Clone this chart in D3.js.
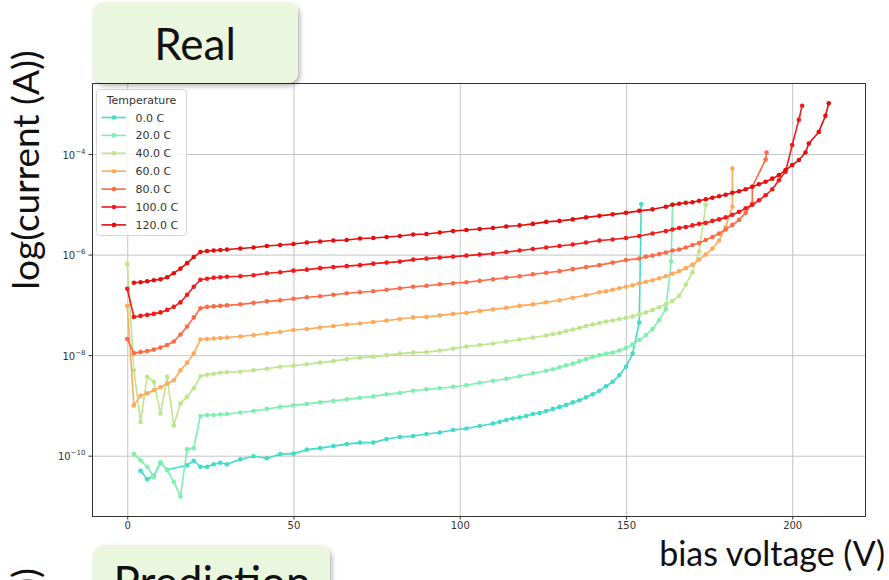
<!DOCTYPE html>
<html>
<head>
<meta charset="utf-8">
<script src="https://cdn.jsdelivr.net/npm/d3@7"></script>
<style>
  html, body { margin: 0; padding: 0; background: #fff; }
  svg { display: block; }
</style>
</head>
<body>
<div id="chart"></div>
<script>
// legend labels and line colours, one per temperature
const temps = ['0.0 C', '20.0 C', '40.0 C', '60.0 C', '80.0 C', '100.0 C', '120.0 C']
const colors = ['#3fdcc9', '#7df0ae', '#bde58c', '#ffaa5a', '#ff6a45', '#f21a1a', '#e60d0d']

// [bias voltage (V), log10 of current (A)]
const iv0 = [[4,-10.30],[6,-10.47],[8,-10.40],[10,-10.14],[12,-10.28],[18,-10.19],[20,-10.10],[22,-10.22],[24,-10.22],[26,-10.17],[28,-10.14],[30,-10.17],
    [34,-10.07],[38,-10.01],[42,-10.05],[46,-9.97],[50,-9.96],[54,-9.88],[58,-9.85],[62,-9.81],[66,-9.77],[70,-9.74],[74,-9.74],[78,-9.67],[82,-9.63],[86,-9.61],
    [90,-9.57],[94,-9.54],[98,-9.49],[102,-9.46],[106,-9.41],[110,-9.36],[112,-9.33],[114,-9.29],[116,-9.26],[118,-9.24],[120,-9.21],[122,-9.17],[124,-9.15],
    [126,-9.11],[128,-9.07],[130,-9.03],[132,-8.99],[134,-8.94],[136,-8.90],[138,-8.84],[140,-8.78],[142,-8.71],[144,-8.62],[146,-8.53],[148,-8.40],[150,-8.23],
    [152,-7.97],[154,-7.35],[154.6,-5.0]]

const iv20 = [[2,-9.97],[4,-10.09],[6,-10.22],[8,-10.43],[10,-10.13],[12,-10.29],[14,-10.52],[16,-10.81],[18,-9.87],[20,-9.85],[22,-9.21],[24,-9.19],[26,-9.19],[28,-9.18],[30,-9.17],
    [34,-9.14],[38,-9.11],[42,-9.07],[46,-9.03],[50,-9.00],[54,-8.97],[58,-8.94],[62,-8.91],[66,-8.88],[70,-8.85],[74,-8.82],[78,-8.78],[82,-8.75],[86,-8.71],
    [90,-8.68],[94,-8.66],[98,-8.63],[102,-8.60],[106,-8.55],[110,-8.51],[114,-8.47],[118,-8.42],[122,-8.36],[126,-8.31],[128,-8.28],[130,-8.24],[132,-8.20],
    [134,-8.17],[136,-8.12],[138,-8.08],[140,-8.03],[142,-8.00],[144,-7.97],[146,-7.95],[148,-7.91],[150,-7.86],[152,-7.79],[154,-7.70],[156,-7.60],[158,-7.48],
    [160,-7.30],[162,-7.08],[163.6,-6.14],[164,-5.0]]

const iv40 = [[0,-6.19],[2,-8.30],[4,-9.33],[6,-8.43],[8,-8.53],[10,-9.16],[12,-8.43],[14,-9.40],[16,-8.96],[18,-8.83],[20,-8.66],[22,-8.42],[24,-8.39],[26,-8.37],[28,-8.35],[30,-8.34],
    [34,-8.33],[38,-8.30],[42,-8.27],[46,-8.23],[50,-8.21],[54,-8.18],[58,-8.15],[62,-8.12],[66,-8.08],[70,-8.05],[74,-8.03],[78,-8.00],[82,-7.97],[86,-7.95],
    [90,-7.94],[94,-7.91],[98,-7.87],[102,-7.83],[106,-7.80],[110,-7.77],[114,-7.73],[118,-7.69],[122,-7.65],[126,-7.61],[128,-7.58],[130,-7.56],[132,-7.52],
    [134,-7.49],[136,-7.46],[138,-7.42],[140,-7.39],[142,-7.36],[144,-7.33],[146,-7.31],[148,-7.28],[150,-7.26],[152,-7.23],[154,-7.19],[156,-7.15],[158,-7.10],
    [160,-7.05],[162,-6.99],[164,-6.92],[166,-6.82],[168,-6.60],[170,-6.35],[172,-5.94],[174,-5.01]]

const iv60 = [[0,-7.02],[2,-9.00],[4,-8.81],[6,-8.76],[8,-8.70],[10,-8.64],[12,-8.57],[14,-8.50],[16,-8.30],[18,-8.15],[20,-7.97],[22,-7.69],[24,-7.68],[26,-7.67],[28,-7.66],[30,-7.65],
    [34,-7.63],[38,-7.60],[42,-7.57],[46,-7.54],[50,-7.50],[54,-7.48],[58,-7.45],[62,-7.42],[66,-7.39],[70,-7.37],[74,-7.34],[78,-7.31],[82,-7.28],[86,-7.25],
    [90,-7.24],[94,-7.21],[98,-7.18],[102,-7.16],[106,-7.12],[110,-7.09],[114,-7.06],[118,-7.02],[122,-6.99],[126,-6.95],[130,-6.91],[134,-6.86],[138,-6.81],[142,-6.75],
    [144,-6.73],[146,-6.70],[148,-6.67],[150,-6.64],[152,-6.61],[154,-6.57],[156,-6.54],[158,-6.51],[160,-6.47],[162,-6.43],[164,-6.38],[166,-6.33],[168,-6.27],
    [170,-6.20],[172,-6.10],[174,-6.00],[176,-5.88],[178,-5.72],[180,-5.45],[182,-5.05],[182,-4.29]]

const iv80 = [[0,-7.68],[2,-7.96],[4,-7.94],[6,-7.92],[8,-7.89],[10,-7.85],[12,-7.80],[14,-7.73],[16,-7.59],[18,-7.43],[20,-7.25],[22,-7.07],[24,-7.04],[26,-7.03],[28,-7.02],[30,-7.01],
    [34,-6.99],[38,-6.96],[42,-6.93],[46,-6.91],[50,-6.88],[54,-6.85],[58,-6.83],[62,-6.80],[66,-6.77],[70,-6.75],[74,-6.73],[78,-6.70],[82,-6.67],[86,-6.64],
    [90,-6.62],[94,-6.59],[98,-6.57],[102,-6.55],[106,-6.52],[110,-6.49],[114,-6.46],[118,-6.43],[122,-6.39],[126,-6.36],[130,-6.33],[134,-6.29],[138,-6.25],
    [142,-6.21],[146,-6.16],[150,-6.11],[154,-6.08],[156,-6.04],[158,-6.02],[160,-5.99],[162,-5.96],[164,-5.92],[166,-5.90],[168,-5.86],[170,-5.81],[172,-5.77],
    [174,-5.71],[176,-5.65],[178,-5.58],[180,-5.50],[182,-5.41],[184,-5.31],[186,-5.17],[188,-4.98],[188,-4.65],[192,-4.11],[192.3,-3.97]]

const iv100 = [[0,-6.68],[2,-7.24],[4,-7.22],[6,-7.20],[8,-7.18],[10,-7.15],[12,-7.10],[14,-7.04],[16,-6.95],[18,-6.80],[20,-6.64],[22,-6.50],[24,-6.48],[26,-6.46],[28,-6.45],[30,-6.44],
    [34,-6.43],[38,-6.41],[42,-6.37],[46,-6.35],[50,-6.32],[54,-6.30],[58,-6.27],[62,-6.25],[66,-6.23],[70,-6.21],[74,-6.18],[78,-6.16],[82,-6.14],[86,-6.10],
    [90,-6.08],[94,-6.06],[98,-6.04],[102,-6.02],[106,-6.00],[110,-5.98],[114,-5.95],[118,-5.92],[122,-5.89],[126,-5.86],[130,-5.83],[134,-5.80],[138,-5.76],
    [142,-5.72],[146,-5.70],[150,-5.67],[154,-5.63],[158,-5.58],[162,-5.53],[164,-5.50],[166,-5.47],[168,-5.45],[170,-5.42],[172,-5.39],[174,-5.37],[176,-5.33],
    [178,-5.30],[180,-5.26],[182,-5.21],[184,-5.15],[186,-5.08],[188,-5.01],[190,-4.92],[192,-4.82],[194,-4.70],[196,-4.52],[198,-4.35],[200,-3.82],[202,-3.32],[203,-3.04]]

const iv120 = [[2,-6.56],[4,-6.55],[6,-6.53],[8,-6.51],[10,-6.49],[12,-6.45],[14,-6.37],[16,-6.28],[18,-6.17],[20,-6.05],[22,-5.95],[24,-5.93],[26,-5.92],[28,-5.91],[30,-5.90],
    [34,-5.88],[38,-5.86],[42,-5.83],[46,-5.81],[50,-5.79],[54,-5.76],[58,-5.74],[62,-5.72],[66,-5.71],[70,-5.68],[74,-5.67],[78,-5.65],[82,-5.63],[86,-5.60],
    [90,-5.59],[94,-5.56],[98,-5.53],[102,-5.51],[106,-5.49],[110,-5.47],[114,-5.44],[118,-5.42],[122,-5.39],[126,-5.35],[130,-5.33],[134,-5.30],[138,-5.26],
    [142,-5.23],[146,-5.20],[150,-5.17],[154,-5.13],[158,-5.10],[162,-5.05],[164,-5.01],[166,-4.99],[168,-4.97],[170,-4.96],[172,-4.93],[174,-4.90],[176,-4.87],
    [178,-4.84],[180,-4.81],[182,-4.77],[184,-4.74],[186,-4.70],[188,-4.65],[190,-4.60],[192,-4.55],[194,-4.49],[196,-4.42],[198,-4.32],[200,-4.22],[202,-4.12],
    [204,-3.97],[205,-3.79],[208,-3.56],[210,-3.24],[211,-2.99]]

const series = [iv0, iv20, iv40, iv60, iv80, iv100, iv120]

const xTicks = [0, 50, 100, 150, 200]
const yTickExps = [-4, -6, -8, -10]

const width = 889
const height = 580
const plot = { left: 92, right: 865, top: 83, bottom: 516 }

const x = d3.scaleLinear().domain([-10.6, 221.9]).range([plot.left, plot.right])
const y = d3.scaleLog().domain([Math.pow(10, -11.2), Math.pow(10, -2.587)]).range([plot.bottom, plot.top])

const line = d3.line()
    .x(d => x(d[0]))
    .y(d => y(Math.pow(10, d[1])))

const svg = d3.select('#chart')
    .append('svg')
    .attr('width', width)
    .attr('height', height)

const shadow = svg.append('defs')
    .append('filter')
    .attr('id', 'boxShadow')
    .attr('x', '-10%')
    .attr('y', '-10%')
    .attr('width', '130%')
    .attr('height', '140%')
shadow.append('feDropShadow')
    .attr('dx', 2)
    .attr('dy', 3)
    .attr('stdDeviation', 2.5)
    .attr('flood-color', '#000')
    .attr('flood-opacity', 0.3)

// grid
svg.append('g')
    .attr('transform', `translate(0,${plot.bottom})`)
    .call(d3.axisBottom(x).tickValues(xTicks).tickSize(-(plot.bottom - plot.top)).tickFormat(''))
    .call(g => g.select('.domain').remove())
    .selectAll('line')
    .attr('stroke', '#c4c4c4')
    .attr('stroke-width', 1)

svg.append('g')
    .attr('transform', `translate(${plot.left},0)`)
    .call(d3.axisLeft(y).tickValues(yTickExps.map(e => Math.pow(10, e))).tickSize(-(plot.right - plot.left)).tickFormat(''))
    .call(g => g.select('.domain').remove())
    .selectAll('line')
    .attr('stroke', '#c4c4c4')
    .attr('stroke-width', 1)

// curves
series.forEach((pts, i) => {
    const g = svg.append('g')
    g.append('path')
        .datum(pts)
        .attr('d', line)
        .attr('fill', 'none')
        .attr('stroke', colors[i])
        .attr('stroke-width', 1.6)
        .attr('stroke-linejoin', 'round')
    g.selectAll('circle')
        .data(pts)
        .join('circle')
        .attr('cx', d => x(d[0]))
        .attr('cy', d => y(Math.pow(10, d[1])))
        .attr('r', 2.3)
        .attr('fill', colors[i])
})

// axes
const xAxis = svg.append('g')
    .attr('transform', `translate(0,${plot.bottom})`)
    .call(d3.axisBottom(x).tickValues(xTicks).tickSize(3.5).tickPadding(2))
xAxis.select('.domain').remove()
xAxis.selectAll('line').attr('stroke', '#333')
xAxis.selectAll('text')
    .attr('fill', '#333')
    .style('font-family', 'DejaVu Sans')
    .style('font-size', '10px')

const yAxis = svg.append('g')
    .attr('transform', `translate(${plot.left},0)`)
    .call(d3.axisLeft(y).tickValues(yTickExps.map(e => Math.pow(10, e))).tickSize(3.5).tickPadding(3))
yAxis.select('.domain').remove()
yAxis.selectAll('line').attr('stroke', '#333')
yAxis.selectAll('.tick text')
    .attr('fill', '#333')
    .attr('dy', '0.4em')
    .style('font-family', 'DejaVu Sans')
    .style('font-size', '10px')
    .each(function (d) {
        const e = Math.round(Math.log10(d))
        const t = d3.select(this).text(null)
        t.append('tspan').text('10')
        t.append('tspan')
            .attr('dy', -5)
            .style('font-size', '7px')
            .text('\u2212' + Math.abs(e))
    })

svg.append('rect')
    .attr('x', plot.left + 0.5)
    .attr('y', plot.top + 0.5)
    .attr('width', plot.right - plot.left)
    .attr('height', plot.bottom - plot.top)
    .attr('fill', 'none')
    .attr('stroke', '#333')
    .attr('stroke-width', 1)

// legend
const legend = svg.append('g')
legend.append('rect')
    .attr('x', 96.5)
    .attr('y', 89.5)
    .attr('width', 90)
    .attr('height', 146)
    .attr('rx', 3)
    .attr('fill', '#fff')
    .attr('fill-opacity', 0.85)
    .attr('stroke', '#d6d6d6')
legend.append('text')
    .attr('x', 141.5)
    .attr('y', 104)
    .attr('text-anchor', 'middle')
    .attr('fill', '#333')
    .style('font-family', 'DejaVu Sans')
    .style('font-size', '11px')
    .text('Temperature')
temps.forEach((t, i) => {
    const cy = 117.5 + i * 17.9
    legend.append('line')
        .attr('x1', 101.5)
        .attr('x2', 126)
        .attr('y1', cy)
        .attr('y2', cy)
        .attr('stroke', colors[i])
        .attr('stroke-width', 1.6)
    legend.append('circle')
        .attr('cx', 114)
        .attr('cy', cy)
        .attr('r', 2.3)
        .attr('fill', colors[i])
    legend.append('text')
        .attr('x', 135.5)
        .attr('y', cy + 4)
        .attr('fill', '#333')
        .style('font-family', 'DejaVu Sans')
        .style('font-size', '11px')
        .text(t)
})

// slide labels around the plot
svg.append('rect')
    .attr('x', 93)
    .attr('y', 2)
    .attr('width', 205)
    .attr('height', 81)
    .attr('rx', 10)
    .attr('fill', '#ebf6de')
    .attr('filter', 'url(#boxShadow)')
svg.append('text')
    .attr('x', 195)
    .attr('y', 60)
    .attr('text-anchor', 'middle')
    .attr('fill', '#111')
    .style('font-family', 'Lato')
    .style('font-size', '44px')
    .text('Real')

svg.append('rect')
    .attr('x', 93)
    .attr('y', 545)
    .attr('width', 237)
    .attr('height', 70)
    .attr('rx', 10)
    .attr('fill', '#ebf6de')
    .attr('filter', 'url(#boxShadow)')
svg.append('text')
    .attr('x', 212)
    .attr('y', 598)
    .attr('text-anchor', 'middle')
    .attr('fill', '#111')
    .style('font-family', 'Lato')
    .style('font-size', '44px')
    .text('Prediction')

svg.append('text')
    .attr('x', 885)
    .attr('y', 566)
    .attr('text-anchor', 'end')
    .attr('fill', '#111')
    .style('font-family', 'Lato')
    .style('font-size', '34px')
    .text('bias voltage (V)')

svg.append('text')
    .attr('transform', 'translate(39,170) rotate(-90)')
    .attr('text-anchor', 'middle')
    .attr('fill', '#111')
    .style('font-family', 'Lato')
    .style('font-size', '37px')
    .text('log(current (A))')

svg.append('text')
    .attr('transform', 'translate(39,568) rotate(-90)')
    .attr('text-anchor', 'end')
    .attr('fill', '#111')
    .style('font-family', 'Lato')
    .style('font-size', '37px')
    .text('log(current (A))')
</script>
</body>
</html>
